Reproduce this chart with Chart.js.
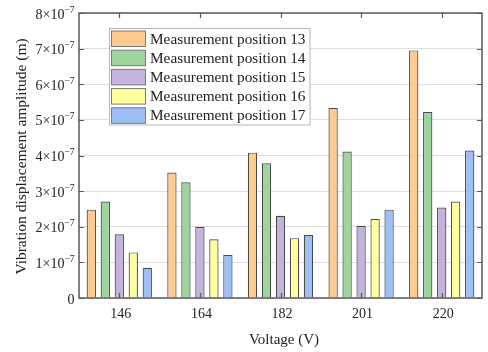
<!DOCTYPE html>
<html>
<head>
<meta charset="utf-8">
<script src="https://cdn.jsdelivr.net/npm/chart.js@4.4.1/dist/chart.umd.min.js"></script>
<style>
html,body{margin:0;padding:0;background:#fff;}
#wrap{width:488px;height:352px;}
</style>
</head>
<body>
<div id="wrap"><canvas id="c" width="488" height="352"></canvas></div>
<script>
const categories = ['146', '164', '182', '201', '220'];
const seriesNames = ['Measurement position 13', 'Measurement position 14', 'Measurement position 15', 'Measurement position 16', 'Measurement position 17'];
const pos13 = [2.48e-7, 3.52e-7, 4.08e-7, 5.33e-7, 6.95e-7];
const pos14 = [2.71e-7, 3.25e-7, 3.78e-7, 4.11e-7, 5.22e-7];
const pos15 = [1.79e-7, 2.00e-7, 2.31e-7, 2.03e-7, 2.54e-7];
const pos16 = [1.28e-7, 1.65e-7, 1.68e-7, 2.22e-7, 2.71e-7];
const pos17 = [0.85e-7, 1.21e-7, 1.77e-7, 2.48e-7, 4.14e-7];
const yTickMain = ['0', '1×10', '2×10', '3×10', '4×10', '5×10', '6×10', '7×10', '8×10'];
const yTickExp = ['', '−7', '−7', '−7', '−7', '−7', '−7', '−7', '−7'];
const xTitle = 'Voltage (V)';
const yTitle = 'Vibration displacement amplitude (m)';
const fills = ['#FFCB8E', '#9DD59C', '#C4B3DA', '#FFFF9E', '#9EBEF6'];
const seriesValues = [pos13, pos14, pos15, pos16, pos17];

const FONT = '"Liberation Serif", "Times New Roman", serif';
const TXT = '#222';

const decor = {
  id: 'decor',
  afterDatasetsDraw(chart) {
    const ctx = chart.ctx, a = chart.chartArea;
    const xs = chart.scales.x, ys = chart.scales.y;
    ctx.save();
    ctx.strokeStyle = '#5a5a5a';
    ctx.lineWidth = 1.5;
    ctx.strokeRect(a.left, a.top, a.right - a.left, a.bottom - a.top);
    ctx.lineWidth = 1.2;
    ctx.beginPath();
    const tl = 5;
    ys.ticks.forEach(t => {
      const y = Math.round(ys.getPixelForValue(t.value)) + 0.5;
      ctx.moveTo(a.left, y); ctx.lineTo(a.left + tl, y);
      ctx.moveTo(a.right, y); ctx.lineTo(a.right - tl, y);
    });
    categories.forEach((c, i) => {
      const x = Math.round(xs.getPixelForValue(i)) + 0.5;
      ctx.moveTo(x, a.bottom); ctx.lineTo(x, a.bottom - tl);
      ctx.moveTo(x, a.top); ctx.lineTo(x, a.top + tl);
    });
    ctx.stroke();
    const lx = 109.5, ly = 28.5, lw = 200.5, lh = 96.5;
    ctx.fillStyle = '#fff';
    ctx.fillRect(lx, ly, lw, lh);
    ctx.strokeStyle = '#b5b5b5';
    ctx.lineWidth = 1;
    ctx.strokeRect(lx, ly, lw, lh);
    ctx.font = '15.3px ' + FONT;
    ctx.textBaseline = 'middle';
    ctx.textAlign = 'left';
    chart.data.datasets.forEach((ds, i) => {
      const sy = 31 + i * 19.2;
      ctx.fillStyle = ds.backgroundColor;
      ctx.fillRect(111.5, sy, 34, 15.5);
      ctx.strokeStyle = '#7a7a7a';
      ctx.strokeRect(111.5, sy, 34, 15.5);
      ctx.fillStyle = TXT;
      ctx.fillText(ds.label, 150, sy + 8.5);
    });
    ctx.restore();
  },
  afterDraw(chart) {
    const ctx = chart.ctx, a = chart.chartArea;
    const xs = chart.scales.x, ys = chart.scales.y;
    ctx.save();
    ctx.fillStyle = TXT;
    ys.ticks.forEach((t, i) => {
      const y = ys.getPixelForValue(t.value);
      const main = yTickMain[i], exp = yTickExp[i];
      ctx.font = '9.5px ' + FONT;
      const ew = exp ? ctx.measureText(exp).width : 0;
      const right = 74.5;
      ctx.textAlign = 'right';
      ctx.textBaseline = 'alphabetic';
      if (exp) ctx.fillText(exp, right, y - 0.5);
      ctx.font = '14px ' + FONT;
      ctx.fillText(main, right - ew, y + 5.5);
    });
    ctx.font = '14px ' + FONT;
    ctx.textAlign = 'center';
    ctx.textBaseline = 'alphabetic';
    categories.forEach((c, i) => {
      ctx.fillText(c, xs.getPixelForValue(i) + 1.5, 317.5);
    });
    ctx.font = '15px ' + FONT;
    ctx.fillText(xTitle, 284, 344);
    ctx.save();
    ctx.translate(26, (a.top + a.bottom) / 2 + 1);
    ctx.rotate(-Math.PI / 2);
    ctx.textAlign = 'center';
    ctx.font = '15.5px ' + FONT;
    ctx.fillText(yTitle, 0, 0);
    ctx.restore();
    ctx.restore();
  }
};

new Chart(document.getElementById('c'), {
  type: 'bar',
  data: {
    labels: categories,
    datasets: seriesValues.map((v, i) => ({
      label: seriesNames[i],
      data: v,
      backgroundColor: fills[i],
      borderColor: '#4a4a4a',
      borderWidth: 1.2,
      categoryPercentage: 0.868,
      barPercentage: 0.665
    }))
  },
  options: {
    responsive: false,
    animation: false,
    devicePixelRatio: 1,
    layout: { padding: { top: 13, right: 6, left: 0, bottom: 0 } },
    plugins: { legend: { display: false }, tooltip: { enabled: false } },
    scales: {
      x: {
        ticks: { display: false },
        grid: { display: false, drawTicks: false },
        border: { display: false },
        afterFit(s) { s.height = 54; }
      },
      y: {
        min: 0, max: 8e-7,
        ticks: { display: false, stepSize: 1e-7 },
        grid: { color: '#dedede', lineWidth: 1, drawTicks: false },
        border: { display: false },
        afterFit(s) { s.width = 79; }
      }
    }
  },
  plugins: [decor]
});
</script>
</body>
</html>
